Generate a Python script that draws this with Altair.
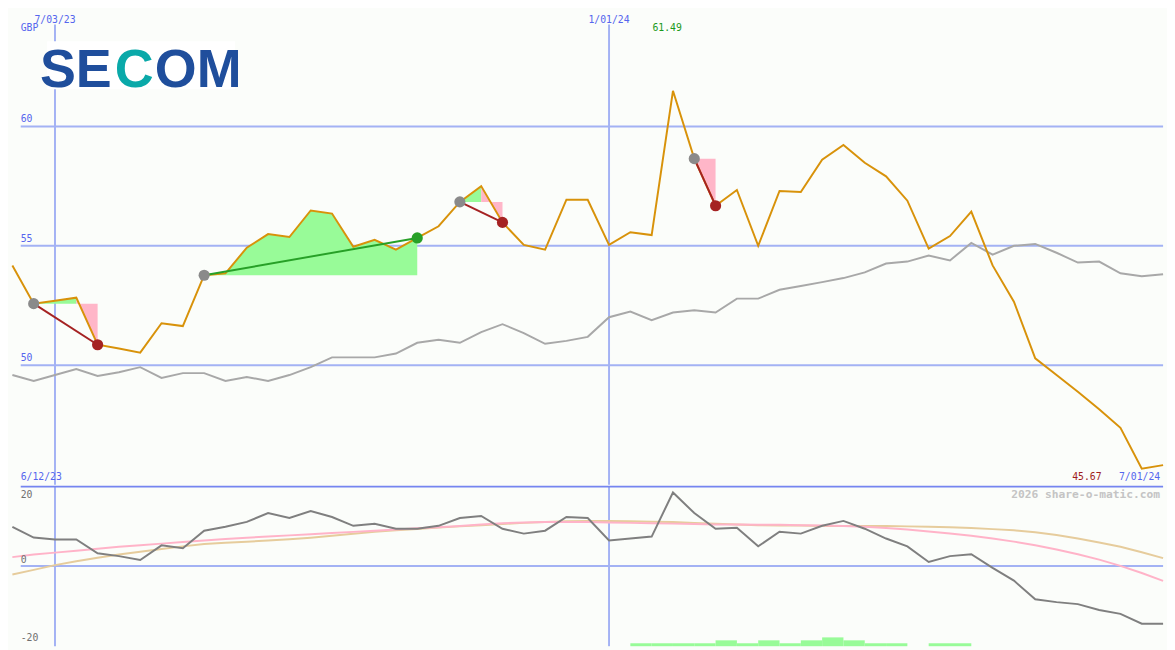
import altair as alt
import pandas as pd

# ---------------- data ----------------
weeks = list(range(55))  # weekly points, week 0 = 19 Jun 2023
price = [54.18, 52.58, 52.70, 52.83, 50.86, 50.70, 50.53, 51.76, 51.64, 53.77,
         53.85, 54.92, 55.49, 55.37, 56.48, 56.35, 54.96, 55.25, 54.84, 55.33,
         55.82, 56.84, 57.50, 55.98, 55.04, 54.84, 56.93, 56.93, 55.04, 55.57,
         55.45, 61.49, 58.65, 56.68, 57.34, 55.00, 57.30, 57.25, 58.61, 59.22,
         58.48, 57.91, 56.89, 54.88, 55.41, 56.43, 54.18, 52.66, 50.29, 49.59,
         48.89, 48.16, 47.38, 45.67, 45.82]
bench = [49.59, 49.34, 49.59, 49.84, 49.55, 49.71, 49.92, 49.47, 49.67, 49.67,
         49.34, 49.51, 49.34, 49.59, 49.92, 50.33, 50.33, 50.33, 50.49, 50.94,
         51.07, 50.94, 51.39, 51.72, 51.35, 50.90, 51.02, 51.19, 52.01, 52.25,
         51.89, 52.21, 52.30, 52.21, 52.79, 52.79, 53.16, 53.32, 53.48, 53.65,
         53.89, 54.26, 54.34, 54.59, 54.39, 55.12, 54.63, 55.00, 55.08, 54.71,
         54.30, 54.34, 53.85, 53.73, 53.81]
momentum = [10.0, 7.25, 6.75, 6.75, 3.25, 2.5, 1.5, 5.25, 4.5, 9.0,
            10.0, 11.25, 13.5, 12.25, 14.0, 12.5, 10.25, 10.75, 9.5, 9.5,
            10.25, 12.25, 12.75, 9.5, 8.25, 9.0, 12.5, 12.25, 6.5, 7.0,
            7.5, 18.75, 13.5, 9.5, 9.75, 5.0, 8.75, 8.25, 10.25, 11.5,
            9.5, 7.0, 5.0, 1.0, 2.5, 3.0, -0.5, -3.75, -8.5, -9.25,
            -9.75, -11.25, -12.25, -14.75, -14.75]
pink_avg = [2.25, 2.9, 3.4, 3.9, 4.4, 4.9, 5.3, 5.7, 6.1, 6.5,
            6.9, 7.2, 7.5, 7.8, 8.1, 8.4, 8.7, 9.0, 9.3, 9.6,
            9.9, 10.2, 10.6, 10.9, 11.1, 11.2, 11.2, 11.2, 11.1, 11.0,
            10.9, 10.8, 10.7, 10.6, 10.6, 10.5, 10.5, 10.4, 10.3, 10.2,
            10.0, 9.7, 9.3, 8.8, 8.3, 7.7, 7.0, 6.2, 5.3, 4.2,
            3.0, 1.6, 0.0, -1.8, -3.8]
tan_avg = [-2.2, -1.0, 0.2, 1.2, 2.1, 2.9, 3.6, 4.3, 5.0, 5.6,
           5.9, 6.2, 6.5, 6.8, 7.2, 7.7, 8.2, 8.7, 9.1, 9.4,
           9.8, 10.1, 10.4, 10.7, 11.0, 11.2, 11.4, 11.5, 11.5, 11.4,
           11.3, 11.2, 11.0, 10.8, 10.6, 10.4, 10.3, 10.3, 10.2, 10.2,
           10.2, 10.2, 10.1, 10.0, 9.9, 9.7, 9.4, 9.1, 8.6, 7.9,
           7.0, 6.0, 4.9, 3.5, 2.0]
bar_weeks = list(range(29, 45))
bar_counts = [1, 1, 1, 1, 2, 1, 2, 1, 2, 3, 2, 1, 1, 0, 1, 1]
trade_entry = [1, 9, 21, 32]
trade_exit = [4, 19, 23, 33]
price_ticks = [60, 55, 50]
osc_ticks = [20, 0, -20]
date_tick_weeks = [2, 28]
date_tick_labels = ["7/03/23", "1/01/24"]
start_label = "6/12/23"
end_label = "7/01/24"
currency = "GBP"
logo_parts = ["SE", "C", "OM"]

# ---------------- style ----------------
# page has an 8px margin: the plot is laid out so that every pixel lines up
# with the reference page (the first 8px strip is simply off-canvas)
W, HT, HB = 1167, 479, 163
BG = "#fbfdfa"
GRID = "#a3b2f4"
SEP = "#7585f0"
LBL = "#5566ee"
ORANGE = "#d8920a"
BENCH = "#a8a8a8"
MOM = "#7f7f7f"
PINKLINE = "#ffb3c8"
TANLINE = "#e6cc9c"
FILL_G = "#98fb98"
FILL_P = "#ffb6c8"
RED = "#a52222"
GREEN_LINE = "#27a027"
GREY_DOT = "#8a8a8a"
FONT = "DejaVu Sans Mono"

xs = alt.Scale(domain=[0.392, 54.0], nice=False, zero=False)
ys = alt.Scale(domain=[45, 64.631], nice=False, zero=False)
yb = alt.Scale(domain=[-20.5, 20.25], nice=False, zero=False)
X = alt.X("week:Q", scale=xs, axis=None)

df = pd.DataFrame({"week": weeks, "price": price, "bench": bench,
                   "mom": momentum, "pink": pink_avg, "tan": tan_avg})

# trade derived tables
fill_rows, trade_rows, dot_rows = [], [], []
for t, (a, b) in enumerate(zip(trade_entry, trade_exit)):
    e = price[a]
    win = price[b] >= e
    lc = GREEN_LINE if win else RED
    trade_rows += [{"trade": t, "week": a, "price": e, "col": lc},
                   {"trade": t, "week": b, "price": price[b], "col": lc}]
    dot_rows += [{"week": a, "price": e, "col": GREY_DOT},
                 {"week": b, "price": price[b], "col": lc}]
    run = 0
    prev = None
    for i in range(a, b):
        col = FILL_G if price[i + 1] >= e else FILL_P
        if prev is not None and col != prev:
            run += 1
        prev = col
        seg = f"{t}-{run}"
        fill_rows += [{"seg": seg, "week": i, "price": price[i], "entry": e, "col": col},
                      {"seg": seg, "week": i + 1, "price": price[i + 1], "entry": e, "col": col}]
fills = pd.DataFrame(fill_rows)
trades = pd.DataFrame(trade_rows)
dots = pd.DataFrame(dot_rows)

# ---------------- top panel ----------------
hgrid = alt.Chart(pd.DataFrame({"price": price_ticks})).mark_rule(
    color=GRID, strokeWidth=2).encode(
    y=alt.Y("price:Q", scale=ys, axis=None), x=alt.value(0), x2=alt.value(W))
hgrid_lbl = alt.Chart(pd.DataFrame({"price": price_ticks, "t": [str(v) for v in price_ticks]})).mark_text(
    font=FONT, fontSize=10, color=LBL, align="left", baseline="bottom", dy=-2).encode(
    y=alt.Y("price:Q", scale=ys, axis=None), x=alt.value(0), text="t:N")
vdf = pd.DataFrame({"week": date_tick_weeks, "t": date_tick_labels})
vgrid = alt.Chart(vdf).mark_rule(color=GRID, strokeWidth=2).encode(
    x=X, y=alt.value(9), y2=alt.value(HT))
vlbl = alt.Chart(vdf).mark_text(font=FONT, fontSize=10, color=LBL, baseline="middle").encode(
    x=X, y=alt.value(4), text="t:N")

logo_box = alt.Chart(pd.DataFrame({"a": [0]})).mark_rect(color="white").encode(
    x=alt.value(27), x2=alt.value(219), y=alt.value(26), y2=alt.value(75))
logo_df = pd.DataFrame({"part": logo_parts, "px": [93, 116, 137],
                        "col": ["#1f4e9c", "#0aa9a9", "#1f4e9c"]})


def logo_part(name, align):
    return alt.Chart(logo_df[logo_df.part == name]).mark_text(
        font="Liberation Sans", fontSize=55, fontWeight="bold", baseline="alphabetic", align=align).encode(
        x=alt.X("px:Q", scale=None), y=alt.value(73), text="part:N", color=alt.Color("col:N", scale=None))


logo_se = logo_part("SE", "right")
logo_c = logo_part("C", "center")
logo_om = logo_part("OM", "left")

bench_line = alt.Chart(df).mark_line(color=BENCH, strokeWidth=2).encode(
    x=X, y=alt.Y("bench:Q", scale=ys, axis=None))
fill_area = alt.Chart(fills).mark_area(opacity=1).encode(
    x=X, y=alt.Y("price:Q", scale=ys, axis=None), y2="entry:Q",
    detail="seg:N", color=alt.Color("col:N", scale=None))
price_line = alt.Chart(df).mark_line(color=ORANGE, strokeWidth=2).encode(
    x=X, y=alt.Y("price:Q", scale=ys, axis=None))
trade_lines = alt.Chart(trades).mark_line(strokeWidth=2).encode(
    x=X, y=alt.Y("price:Q", scale=ys, axis=None), detail="trade:N",
    color=alt.Color("col:N", scale=None))
dot_marks = alt.Chart(dots).mark_circle(size=130, opacity=1).encode(
    x=X, y=alt.Y("price:Q", scale=ys, axis=None), color=alt.Color("col:N", scale=None))

imax = price.index(max(price))
imin = price.index(min(price))
ext = pd.DataFrame({"week": [imax], "t": [f"{price[imax]:.2f}"]})
max_lbl = alt.Chart(ext).mark_text(font=FONT, fontSize=10, color="#1a9a1a", baseline="middle", dx=-6).encode(
    x=X, y=alt.value(13), text="t:N")
min_lbl = alt.Chart(pd.DataFrame({"week": [imin], "t": [f"{price[imin]:.2f}"]})).mark_text(
    font=FONT, fontSize=10, color="#a01c1c", align="right", baseline="middle", dx=-41).encode(
    x=X, y=alt.value(HT - 8), text="t:N")
cur_lbl = alt.Chart(pd.DataFrame({"t": [currency]})).mark_text(
    font=FONT, fontSize=10, color=LBL, align="left", baseline="middle").encode(
    x=alt.value(0), y=alt.value(13), text="t:N")
start_lbl = alt.Chart(pd.DataFrame({"t": [start_label]})).mark_text(
    font=FONT, fontSize=10, color=LBL, align="left", baseline="middle").encode(
    x=alt.value(0), y=alt.value(HT - 8), text="t:N")
end_lbl = alt.Chart(pd.DataFrame({"t": [end_label]})).mark_text(
    font=FONT, fontSize=10, color=LBL, align="right", baseline="middle").encode(
    x=alt.value(W - 3), y=alt.value(HT - 8), text="t:N")

top = alt.layer(hgrid, vgrid, logo_box, logo_se, logo_c, logo_om, hgrid_lbl, vlbl, bench_line, fill_area,
                price_line, trade_lines, dot_marks, max_lbl, min_lbl, cur_lbl,
                start_lbl, end_lbl).properties(width=W, height=HT)

# ---------------- bottom panel ----------------
zero_line = alt.Chart(pd.DataFrame({"v": [0]})).mark_rule(color=GRID, strokeWidth=2).encode(
    y=alt.Y("v:Q", scale=yb, axis=None), x=alt.value(0), x2=alt.value(W))
vgrid_b = alt.Chart(vdf).mark_rule(color=GRID, strokeWidth=2).encode(
    x=X, y=alt.value(0), y2=alt.value(HB))
sep = alt.Chart(pd.DataFrame({"v": [0]})).mark_rule(color=SEP, strokeWidth=2).encode(
    y=alt.value(0), x=alt.value(0), x2=alt.value(W))
bars_df = pd.DataFrame({"week": bar_weeks, "cnt": bar_counts})
bars = alt.Chart(bars_df).transform_calculate(week_end="datum.week + 1", base="0").mark_rect(
    color=FILL_G).encode(
    x=X, x2="week_end:Q",
    y=alt.Y("cnt:Q", scale=alt.Scale(domain=[0, HB / 3], nice=False, zero=True), axis=None),
    y2="base:Q")
tan_line = alt.Chart(df).mark_line(color=TANLINE, strokeWidth=2).encode(
    x=X, y=alt.Y("tan:Q", scale=yb, axis=None))
pink_line = alt.Chart(df).mark_line(color=PINKLINE, strokeWidth=2).encode(
    x=X, y=alt.Y("pink:Q", scale=yb, axis=None))
mom_line = alt.Chart(df).mark_line(color=MOM, strokeWidth=2).encode(
    x=X, y=alt.Y("mom:Q", scale=yb, axis=None))
osc_lbl = alt.Chart(pd.DataFrame({"v": osc_ticks, "t": [str(v) for v in osc_ticks],
                                  "py": [9, 75, 155]})).mark_text(
    font=FONT, fontSize=10, color="#707070", align="left", baseline="middle").encode(
    x=alt.value(0), y=alt.Y("py:Q", scale=None), text="t:N")
wm = alt.Chart(pd.DataFrame({"t": ["2026 share-o-matic.com"]})).mark_text(
    font=FONT, fontSize=11.5, fontWeight="bold", color="#c4c4c4", align="right", baseline="middle").encode(
    x=alt.value(W - 3), y=alt.value(9), text="t:N")

bottom = alt.layer(zero_line, vgrid_b, bars, tan_line, pink_line, mom_line, osc_lbl, wm, sep).resolve_scale(
    y="independent").properties(width=W, height=HB)

chart = alt.vconcat(top, bottom, spacing=0).properties(
    background=BG, padding=0).configure_view(stroke=None)

chart.save("out.html", embed_options={"renderer": "svg", "actions": False})
